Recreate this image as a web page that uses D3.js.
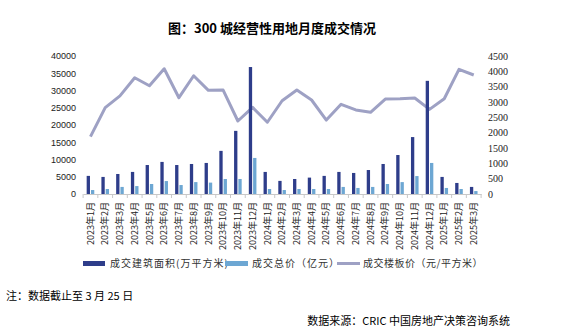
<!DOCTYPE html>
<html><head><meta charset="utf-8">
<script src="https://cdn.jsdelivr.net/npm/d3@7"></script>
<style>body{margin:0;background:#fff}svg{display:block}</style>
</head><body>
<svg id="c" width="573" height="332"></svg>
<script>
const categories = ["2023年1月","2023年2月","2023年3月","2023年4月","2023年5月","2023年6月","2023年7月","2023年8月","2023年9月","2023年10月","2023年11月","2023年12月","2024年1月","2024年2月","2024年3月","2024年4月","2024年5月","2024年6月","2024年7月","2024年8月","2024年9月","2024年10月","2024年11月","2024年12月","2025年1月","2025年2月","2025年3月"];
const areaValues = [5250,4950,5800,6400,8400,9300,8400,8700,9000,12500,18300,36800,6400,3800,4350,4750,5250,6400,6100,6950,8700,11300,16500,32800,4950,3200,2050];
const priceValues = [1150,1450,2050,2300,2900,3750,2600,3450,3300,4350,4350,10450,1450,1150,1450,1450,1450,2050,1750,2050,2900,3450,5200,9000,1750,1450,850];
const floorPriceValues = [1870,2815,3200,3790,3530,4085,3140,3855,3380,3390,2380,2825,2340,3040,3390,3065,2410,2925,2740,2665,3095,3105,3130,2760,3105,4065,3880];
const leftTicks = [0,5000,10000,15000,20000,25000,30000,35000,40000];
const rightTicks = [0,500,1000,1500,2000,2500,3000,3500,4000,4500];
const seriesNames = ["成交建筑面积(万平方米)","成交总价（亿元）","成交楼板价（元/平方米）"];
const titleText = "图：300 城经营性用地月度成交情况";
const noteText = "注：数据截止至 3 月 25 日";
const sourceText = "数据来源：CRIC 中国房地产决策咨询系统";

const colors = {area:"#2E3D8A", price:"#6DA7D3", line:"#9EA1C4"};
const svg = d3.select("#c");
const x = d3.scaleBand().domain(categories).range([83.1, 481.1]).paddingInner(0).paddingOuter(0);
const sub = d3.scaleBand().domain(["area","price"]).range([0, x.bandwidth()]).paddingInner(0.23).paddingOuter(0.83);
const yL = d3.scaleLinear().domain([0,40000]).range([194,56]);
const yR = d3.scaleLinear().domain([0,4500]).range([194,56]);

// title
svg.append("text").attr("x",272).attr("y",33).attr("text-anchor","middle")
  .attr("font-family","'Noto Sans CJK SC'").attr("font-weight","bold").attr("font-size",13).attr("fill","#000").text(titleText);

// left axis
const gL = svg.append("g").attr("transform","translate(83,0)")
  .call(d3.axisLeft(yL).tickValues(leftTicks).tickSize(0).tickPadding(7).tickFormat(d3.format("d")));
gL.select(".domain").remove();
gL.selectAll("text").attr("font-family","'Liberation Sans'").attr("font-size",9).attr("fill","#222");

// right axis
const gR = svg.append("g").attr("transform","translate(481,0)")
  .call(d3.axisRight(yR).tickValues(rightTicks).tickSize(0).tickPadding(7).tickFormat(d3.format("d")));
gR.select(".domain").remove();
gR.selectAll("text").attr("font-family","'Liberation Serif'").attr("font-size",10).attr("fill","#222");

// line
const line = d3.line().x((d,i)=>x(categories[i])+x.bandwidth()/2).y(d=>yR(d));
svg.append("path").datum(floorPriceValues).attr("d",line).attr("fill","none")
  .attr("stroke",colors.line).attr("stroke-width",3).attr("stroke-linejoin","round");

// bars
svg.append("g").selectAll("rect").data(areaValues).join("rect")
  .attr("x",(d,i)=>x(categories[i])+sub("area")).attr("width",sub.bandwidth())
  .attr("y",d=>yL(d)).attr("height",d=>yL(0)-yL(d)).attr("fill",colors.area);
svg.append("g").selectAll("rect").data(priceValues).join("rect")
  .attr("x",(d,i)=>x(categories[i])+sub("price")).attr("width",sub.bandwidth())
  .attr("y",d=>yL(d)).attr("height",d=>yL(0)-yL(d)).attr("fill",colors.price);

// x axis
const gX = svg.append("g").attr("transform","translate(0,194)")
  .call(d3.axisBottom(x).tickSize(0).tickFormat(""));
gX.select(".domain").attr("stroke","#c8c8c8");
const bounds = categories.map(c=>x(c)).concat([x(categories[categories.length-1])+x.bandwidth()]);
gX.selectAll("line.sep").data(bounds).join("line").attr("class","sep")
  .attr("x1",d=>d).attr("x2",d=>d).attr("y1",0).attr("y2",4).attr("stroke","#c8c8c8");
svg.append("g").selectAll("text").data(categories).join("text")
  .attr("transform",d=>`translate(${x(d)+x.bandwidth()/2},202) rotate(-90)`)
  .attr("text-anchor","end").attr("dy","0.35em")
  .attr("font-family","'Noto Sans CJK SC'").attr("font-size",9).attr("fill","#222").text(d=>d);

// legend
const lg = svg.append("g").attr("font-family","'Noto Sans CJK SC'").attr("font-size",10).attr("fill","#333");
lg.append("rect").attr("x",83).attr("y",261).attr("width",22).attr("height",5).attr("fill",colors.area);
lg.append("text").attr("x",110).attr("y",267).attr("letter-spacing",1).text(seriesNames[0]);
lg.append("rect").attr("x",225).attr("y",261).attr("width",23).attr("height",5).attr("fill",colors.price);
lg.append("text").attr("x",252).attr("y",267).attr("letter-spacing",1).text(seriesNames[1]);
lg.append("line").attr("x1",337).attr("x2",360).attr("y1",263.5).attr("y2",263.5).attr("stroke",colors.line).attr("stroke-width",3);
lg.append("text").attr("x",363).attr("y",267).attr("letter-spacing",0.5).text(seriesNames[2]);

// notes
svg.append("text").attr("x",6).attr("y",300).attr("font-family","'Noto Sans CJK SC'").attr("font-size",11).attr("fill","#000").text(noteText);
svg.append("text").attr("x",510).attr("y",325).attr("text-anchor","end").attr("font-family","'Noto Sans CJK SC'").attr("font-size",11).attr("fill","#000").text(sourceText);
</script>
</body></html>
